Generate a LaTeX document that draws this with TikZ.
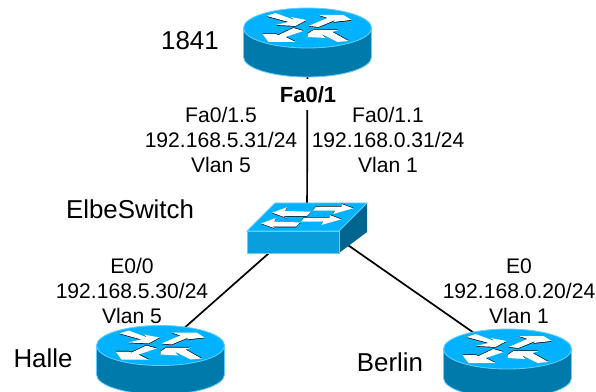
\documentclass[tikz,border=0pt]{standalone}
\usepackage{fontspec}
\setmainfont{Liberation Sans}
\definecolor{rtop}{HTML}{00B2FF}
\definecolor{rside}{HTML}{0079AB}
\definecolor{rrim}{HTML}{66CCFF}
\definecolor{sfront}{HTML}{0A9FDC}
\definecolor{sright}{HTML}{00658F}
\tikzset{
  link/.style={line width=1.2pt},
  devname/.style={font=\fontsize{18.4}{20}\selectfont, inner sep=0pt},
  iplabel/.style={font=\fontsize{15}{17.8}\selectfont, align=center, inner sep=0pt},
  devbox/.style={inner sep=0pt, minimum width=#1}
}
% one white arrow with its thin black edge
\newcommand{\rarrow}[2]{
  \fill[black, shift={(0,#1)}] #2;
  \fill[white] #2;
}
% name, x and y of the centre of the top face
\newcommand{\router}[3]{
  \node[devbox=129, minimum height=69*.711pt] (#1) at (#2,#3+14.5) {};
  \begin{scope}[shift={(#2,#3)}]
    \draw[rrim, line width=.6pt, fill=rside] (-64,0)--(-64,29) arc[start angle=180, end angle=0, x radius=64, y radius=20]--(64,0);
    \draw[rrim, line width=.6pt, fill=rtop] (0,0) ellipse[x radius=64, y radius=20];
    \rarrow{.7}{(-41,-12)--(-32,-15)--(-13,-8)--(-17,-11)--(-1,-8)--(-12,-2)--(-32,-3)--(-19,-6)--cycle}
    \rarrow{.7}{(1,-2)--(20,-10)--(11,-13)--(36,-13)--(44,-8)--(26,-6)--(28,-8)--(11,-1)--cycle}
    \rarrow{-.7}{(-4,3)--(-22,9)--(-12,14)--(-39,14)--(-45,6)--(-32,6)--(-29,7)--(-14,0)--cycle}
    \rarrow{-.7}{(0,6)--(6,2)--(31,2)--(25,4)--(41,13)--(30,14)--(14,6)--(18,10)--(0,9)--cycle}
  \end{scope}
}

\begin{document}
\begin{tikzpicture}[x=.025cm, y=-.025cm]
    \useasboundingbox (0,0) rectangle (596,392);
    \clip (0,0) rectangle (596,392);
    % link ends
    \coordinate (elbeleft) at (294,231);
    \coordinate (elberight) at (322,227);
    \coordinate (halleport) at (165,345);
    \coordinate (berlinport) at (507,356);
    \node[devbox=120, minimum height=50*.711pt] (elbe) at (307,228) {};
    \node[devbox=129, minimum height=69*.711pt] (top) at (307.5,42.5) {};
    \draw[link] (top.center)--(elbe.center);
    \draw[link] (elbeleft)--(halleport);
    \draw[link] (elberight)--(berlinport);
    \node[font=\bfseries\fontsize{15.6}{16}\selectfont, fill=white, inner xsep=1pt, minimum height=31*.711pt, inner ysep=0pt] (fa) at (308,95) {Fa0/1};
    % routers
    \router{r1841}{307.5}{28}
    \router{halle}{160.5}{345.5}
    \router{berlin}{507.5}{349}
    % switch
    \fill[sright] (339,231)--(367,203)--(367,232)--(339,253)--cycle;
    \draw[rrim, line width=.6pt, fill=rtop] (247,231)--(275,203)--(367,203)--(339,231)--cycle;
    \draw[rrim, line width=.6pt, fill=sfront] (247,231) rectangle (339,253);
    \foreach \dx/\dy in {0/0,-11/10.7}{
        \begin{scope}[shift={(\dx,\dy)}]
            \rarrow{.6}{(272,212.7)--(287,207.3)--(285,211)--(311,211.7)--(307,216)--(283.3,216)--(287,218)--cycle}
        \end{scope}
    }
    \foreach \dx/\dy in {0/0,-12/11}{
        \begin{scope}[shift={(\dx,\dy)}]
            \rarrow{-.6}{(353.3,208.3)--(341.7,204)--(341.7,206.7)--(316,206.7)--(312.7,210.7)--(335,210.7)--(333.3,214)--cycle}
        \end{scope}
    }
    % labels
    \node[devname] (n1841) at (190,41) {1841};
    \node[devname] (nelbe) at (130,209) {ElbeSwitch};
    \node[devname] (nhalle) at (43,358) {Halle};
    \node[devname] (nberlin) at (390,362) {Berlin};
    \node[iplabel] (lfive) at (221,140) {Fa0/1.5\\192.168.5.31/24\\Vlan 5};
    \node[iplabel] (lone) at (388,140) {Fa0/1.1\\192.168.0.31/24\\Vlan 1};
    \node[iplabel] (lhalle) at (132,291) {E0/0\\192.168.5.30/24\\Vlan 5};
    \node[iplabel] (lberlin) at (519,291) {E0\\192.168.0.20/24\\Vlan 1};
\end{tikzpicture}
\end{document}
